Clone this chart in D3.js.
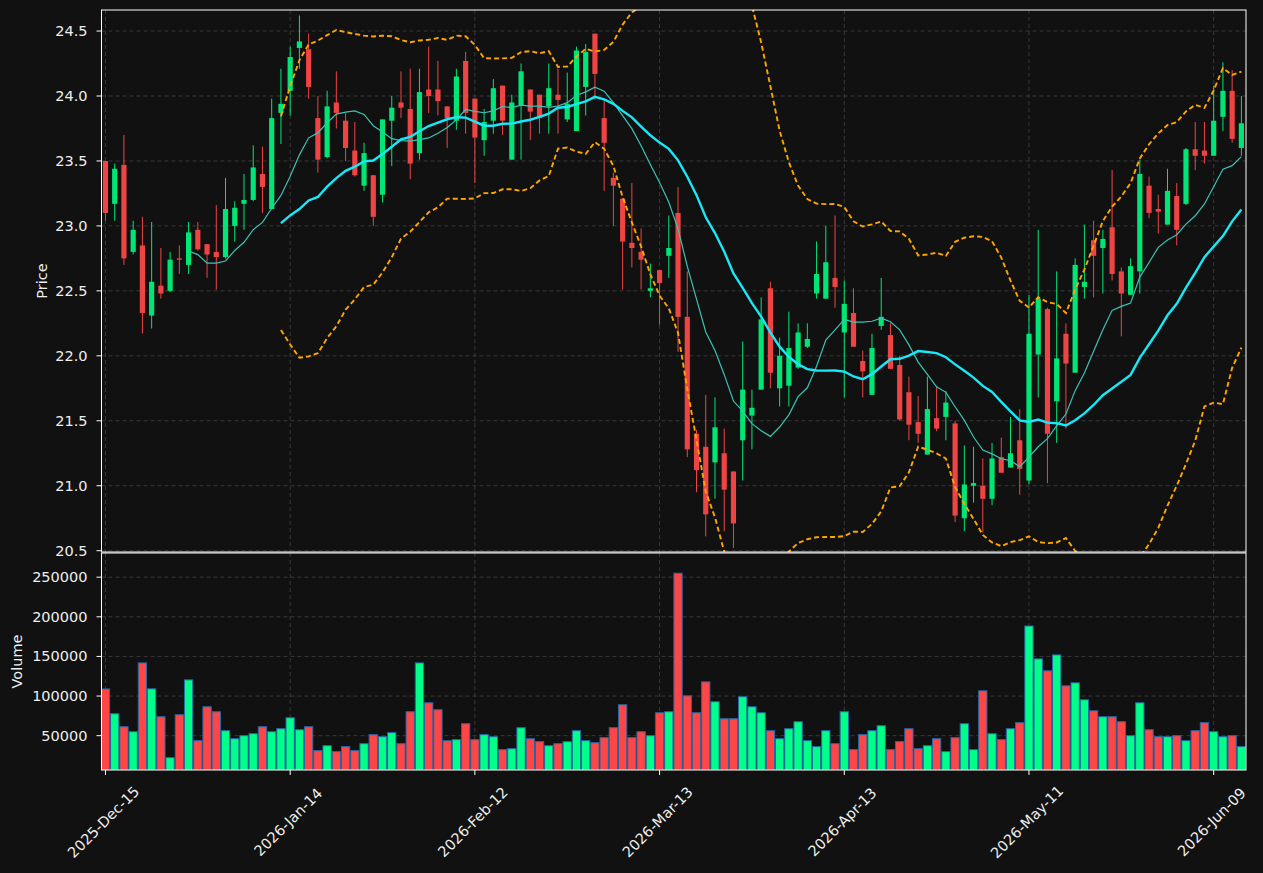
<!DOCTYPE html>
<html>
<head>
  <meta charset="utf-8">
  <title>Candles with MA and Bollinger</title>
  <script src="https://d3js.org/d3.v7.min.js"></script>
  <style>
    body { margin: 0; background: #111111; }
    text { font-family: "DejaVu Sans", sans-serif; }
  </style>
</head>
<body>
<div id="chart"></div>
<script>
// trading days (NYSE calendar, Dec 2025 - Jun 2026)
var dates = [
  "2025-12-15","2025-12-16","2025-12-17","2025-12-18","2025-12-19","2025-12-22","2025-12-23","2025-12-24","2025-12-26","2025-12-29","2025-12-30","2025-12-31",
  "2026-01-02","2026-01-05","2026-01-06","2026-01-07","2026-01-08","2026-01-09","2026-01-12","2026-01-13","2026-01-14","2026-01-15","2026-01-16","2026-01-20",
  "2026-01-21","2026-01-22","2026-01-23","2026-01-26","2026-01-27","2026-01-28","2026-01-29","2026-01-30",
  "2026-02-02","2026-02-03","2026-02-04","2026-02-05","2026-02-06","2026-02-09","2026-02-10","2026-02-11","2026-02-12","2026-02-13","2026-02-17","2026-02-18",
  "2026-02-19","2026-02-20","2026-02-23","2026-02-24","2026-02-25","2026-02-26","2026-02-27",
  "2026-03-02","2026-03-03","2026-03-04","2026-03-05","2026-03-06","2026-03-09","2026-03-10","2026-03-11","2026-03-12","2026-03-13","2026-03-16","2026-03-17",
  "2026-03-18","2026-03-19","2026-03-20","2026-03-23","2026-03-24","2026-03-25","2026-03-26","2026-03-27","2026-03-30","2026-03-31",
  "2026-04-01","2026-04-02","2026-04-06","2026-04-07","2026-04-08","2026-04-09","2026-04-10","2026-04-13","2026-04-14","2026-04-15","2026-04-16","2026-04-17",
  "2026-04-20","2026-04-21","2026-04-22","2026-04-23","2026-04-24","2026-04-27","2026-04-28","2026-04-29","2026-04-30",
  "2026-05-01","2026-05-04","2026-05-05","2026-05-06","2026-05-07","2026-05-08","2026-05-11","2026-05-12","2026-05-13","2026-05-14","2026-05-15","2026-05-18",
  "2026-05-19","2026-05-20","2026-05-21","2026-05-22","2026-05-26","2026-05-27","2026-05-28","2026-05-29",
  "2026-06-01","2026-06-02","2026-06-03","2026-06-04","2026-06-05","2026-06-08","2026-06-09","2026-06-10","2026-06-11","2026-06-12"
];

var opens = [
  23.50,23.17,23.47,22.80,22.85,22.31,22.54,22.50,22.75,22.70,
  22.97,22.86,22.80,22.76,23.00,23.17,23.20,23.40,23.13,23.87,
  24.04,24.37,24.36,23.83,23.53,23.95,23.81,23.58,23.31,23.39,
  23.24,23.81,23.95,23.90,23.56,24.05,24.05,23.92,23.81,24.27,
  23.98,23.66,23.81,24.08,23.51,23.93,24.05,24.01,23.92,24.01,
  23.82,23.73,24.07,24.48,23.83,23.37,23.21,22.87,22.80,22.50,
  22.66,22.77,23.10,22.30,21.40,21.30,21.18,21.25,21.11,21.35,
  21.54,21.74,22.52,21.75,21.77,21.91,22.07,22.48,22.44,22.60,
  22.18,22.33,21.96,21.70,22.23,22.16,21.93,21.72,21.49,21.24,
  21.52,21.53,21.48,20.75,21.00,21.00,20.90,21.22,21.14,21.35,
  21.04,22.01,22.36,21.65,22.17,21.87,22.53,22.89,22.83,22.99,
  22.65,22.47,22.65,23.31,23.13,23.01,23.23,23.17,23.59,23.58,
  23.54,23.84,24.04,23.60
];
var highs = [
  23.50,23.48,23.70,23.04,23.07,23.03,22.83,22.80,22.85,23.03,
  23.03,22.86,23.16,23.37,23.19,23.40,23.62,23.61,23.98,24.21,
  24.38,24.62,24.48,24.00,24.04,24.19,23.87,23.80,23.64,23.39,
  23.82,24.00,24.19,24.21,24.21,24.38,24.27,23.92,24.21,24.34,
  23.98,23.90,24.13,24.08,24.01,24.25,24.05,24.01,24.25,24.21,
  24.18,24.38,24.40,24.48,23.97,23.41,23.21,23.33,22.98,22.71,
  22.66,23.08,23.30,22.65,21.43,21.70,21.68,21.44,21.11,22.11,
  21.74,22.45,22.57,22.14,22.34,22.25,22.25,22.88,23.00,23.08,
  22.58,22.52,22.04,22.17,22.60,22.25,22.00,21.84,21.69,21.84,
  21.76,21.73,21.50,21.31,21.30,21.21,21.33,21.37,21.53,21.59,
  22.47,22.97,22.37,22.65,22.25,22.75,23.01,23.04,22.97,23.43,
  22.68,22.75,23.51,23.38,23.24,23.44,23.33,23.60,23.80,23.80,
  24.08,24.26,24.20,24.00
];
var lows = [
  23.04,23.04,22.70,22.78,22.17,22.21,22.44,22.49,22.63,22.63,
  22.81,22.60,22.51,22.75,22.88,22.97,23.19,23.10,23.13,23.63,
  23.85,24.21,23.98,23.41,23.52,23.75,23.50,23.38,23.27,23.00,
  23.18,23.46,23.83,23.36,23.51,23.87,23.85,23.60,23.74,23.71,
  23.33,23.54,23.71,23.70,23.51,23.51,23.66,23.71,23.71,23.71,
  23.80,23.73,23.85,23.97,23.27,23.00,22.51,22.68,22.51,22.45,
  22.24,22.60,22.03,21.22,20.95,20.61,20.90,20.65,20.52,21.04,
  21.28,21.74,21.75,21.61,21.61,21.90,22.06,22.44,22.44,22.37,
  21.68,22.07,21.68,21.70,22.20,21.90,21.50,21.35,21.33,21.24,
  21.42,21.35,20.72,20.65,20.87,20.64,20.85,21.10,21.14,20.93,
  21.01,21.68,21.02,21.33,21.44,21.87,22.44,22.45,22.48,22.58,
  22.15,22.47,22.48,23.06,22.94,23.01,22.85,23.16,23.43,23.48,
  23.54,23.73,23.64,23.54
];
var closes = [
  23.10,23.44,22.75,22.97,22.33,22.57,22.48,22.74,22.74,22.95,
  22.82,22.78,22.76,23.13,23.14,23.20,23.45,23.30,23.83,23.94,
  24.30,24.42,24.07,23.51,23.92,23.87,23.60,23.39,23.56,23.07,
  23.82,23.91,23.91,23.48,24.03,24.00,23.96,23.83,24.15,23.87,
  23.68,23.80,24.06,23.81,23.95,24.19,23.88,23.83,24.06,23.97,
  23.94,24.35,24.34,24.17,23.64,23.31,22.88,22.83,22.74,22.52,
  22.56,22.83,22.30,21.28,21.12,20.78,21.45,20.97,20.71,21.74,
  21.60,22.28,21.87,22.00,22.06,22.18,22.13,22.63,22.72,22.53,
  22.40,22.07,21.88,22.06,22.30,21.90,21.51,21.47,21.40,21.59,
  21.44,21.64,20.77,21.01,21.02,20.90,21.21,21.10,21.25,21.13,
  22.17,22.44,21.40,21.98,21.94,22.70,22.57,22.77,22.90,22.63,
  22.48,22.69,23.40,23.10,23.11,23.27,22.97,23.59,23.54,23.54,
  23.81,24.04,23.67,23.79
];
var volumes = [
  109000,77700,61300,55000,141800,109100,73900,22300,76400,120400,
  43700,86500,80200,56300,46200,50000,52500,61300,55000,58800,
  72600,57500,61300,31100,37400,29900,36200,31100,39900,51300,
  48700,53800,39900,80200,141800,91500,82700,43700,45000,65100,
  45000,51300,48700,32400,33600,60100,46200,42500,37400,39900,
  42500,56300,43700,41200,47500,60100,89000,47500,55000,50000,
  78900,80200,255000,100300,78900,117900,92800,71400,71400,99100,
  86500,78900,56300,46200,58800,67600,43700,36200,56300,39900,
  80200,32400,51300,56300,62600,32400,42500,58800,33600,37400,
  46200,29900,47500,65100,32400,106600,52500,45000,58800,66400,
  188400,146900,131800,151900,112900,116700,95300,81400,73900,73900,
  67600,50000,91500,57500,48700,48700,50000,43700,56300,66400,
  55000,48700,50000,36200
];

var priceTicks = [20.5, 21.0, 21.5, 22.0, 22.5, 23.0, 23.5, 24.0, 24.5];
var volumeTicks = [50000, 100000, 150000, 200000, 250000];
var xTickEvery = 20;

var width = 1263, height = 873;
var left = 101.5, right = 1246;
var pTop = 10, pBottom = 552, vTop = 553, vBottom = 770;

var upColor = "#00e676", downColor = "#ef4444";
var volUp = "#00ff88", volDown = "#ff4646";

var data = dates.map(function(d, i) {
  return {i: i, date: d3.timeParse("%Y-%m-%d")(d), o: opens[i], h: highs[i], l: lows[i], c: closes[i], v: volumes[i]};
});

// moving averages / bollinger from the closes
function sma(n) {
  return data.map(function(d, i) {
    if (i < n - 1) return null;
    return d3.mean(closes.slice(i - n + 1, i + 1));
  });
}
var ma10 = sma(10), ma20 = sma(20);
var bbUp = [], bbLo = [];
data.forEach(function(d, i) {
  if (i < 19) { bbUp.push(null); bbLo.push(null); return; }
  var w = closes.slice(i - 19, i + 1), m = ma20[i];
  var sd = Math.sqrt(d3.mean(w, function(v) { return (v - m) * (v - m); }));
  bbUp.push(m + 2 * sd); bbLo.push(m - 2 * sd);
});

var svg = d3.select("#chart").append("svg")
  .attr("width", width).attr("height", height)
  .style("background", "#111111");

var x = d3.scaleLinear().domain([-0.43, 123.5]).range([left, right]);
var step = x(1) - x(0);
var yP = d3.scaleLinear().domain([20.49, 24.662]).range([pBottom, pTop]);
var vMin = d3.min(volumes) * 0.3, vMax = d3.max(volumes) * 1.1;
var yV = d3.scaleLinear().domain([vMin, vMax]).range([vBottom, vTop]);

var defs = svg.append("defs");
defs.append("clipPath").attr("id", "clipP").append("rect")
  .attr("x", left).attr("y", pTop).attr("width", right - left).attr("height", pBottom - pTop);
defs.append("clipPath").attr("id", "clipV").append("rect")
  .attr("x", left).attr("y", vTop).attr("width", right - left).attr("height", vBottom - vTop);

var xTicks = d3.range(0, data.length, xTickEvery);
var gridColor = "#3d3d3d";

// grids
var grid = svg.append("g").attr("stroke", gridColor).attr("stroke-dasharray", "4,3").attr("stroke-width", 0.9);
xTicks.forEach(function(t) {
  grid.append("line").attr("x1", x(t)).attr("x2", x(t)).attr("y1", pTop).attr("y2", pBottom);
  grid.append("line").attr("x1", x(t)).attr("x2", x(t)).attr("y1", vTop).attr("y2", vBottom);
});
priceTicks.forEach(function(t) {
  grid.append("line").attr("x1", left).attr("x2", right).attr("y1", yP(t)).attr("y2", yP(t));
});
volumeTicks.forEach(function(t) {
  grid.append("line").attr("x1", left).attr("x2", right).attr("y1", yV(t)).attr("y2", yV(t));
});

// candles
var cg = svg.append("g").attr("clip-path", "url(#clipP)");
var bodyW = step * 0.56;
cg.selectAll(".wick").data(data).enter().append("line")
  .attr("class", "wick")
  .attr("x1", function(d) { return x(d.i); })
  .attr("x2", function(d) { return x(d.i); })
  .attr("y1", function(d) { return yP(d.h); })
  .attr("y2", function(d) { return yP(d.l); })
  .attr("stroke", function(d) { return d.c >= d.o ? upColor : downColor; })
  .attr("stroke-width", 1);
cg.selectAll(".body").data(data).enter().append("rect")
  .attr("class", "body")
  .attr("x", function(d) { return x(d.i) - bodyW / 2; })
  .attr("width", bodyW)
  .attr("y", function(d) { return yP(Math.max(d.o, d.c)); })
  .attr("height", function(d) { return Math.max(1, Math.abs(yP(d.o) - yP(d.c))); })
  .attr("fill", function(d) { return d.c >= d.o ? upColor : downColor; });

// indicator lines
function lineOf(arr) {
  return d3.line()
    .defined(function(d, i) { return arr[i] != null; })
    .x(function(d, i) { return x(i); })
    .y(function(d, i) { return yP(arr[i]); })(data);
}
cg.append("path").attr("d", lineOf(bbUp)).attr("fill", "none")
  .attr("stroke", "#ffa500").attr("stroke-width", 1.9).attr("stroke-dasharray", "5,3");
cg.append("path").attr("d", lineOf(bbLo)).attr("fill", "none")
  .attr("stroke", "#ffa500").attr("stroke-width", 1.9).attr("stroke-dasharray", "5,3");
cg.append("path").attr("d", lineOf(ma10)).attr("fill", "none")
  .attr("stroke", "#3cc3b5").attr("stroke-width", 1.2);
cg.append("path").attr("d", lineOf(ma20)).attr("fill", "none")
  .attr("stroke", "#18e8f7").attr("stroke-width", 2.4);

// volume
var vg = svg.append("g").attr("clip-path", "url(#clipV)");
var barW = step * 0.9;
vg.selectAll(".vol").data(data).enter().append("rect")
  .attr("class", "vol")
  .attr("x", function(d) { return x(d.i) - barW / 2; })
  .attr("width", barW)
  .attr("y", function(d) { return yV(d.v); })
  .attr("height", function(d) { return yV(0) - yV(d.v); })
  .attr("fill", function(d) { return d.c >= d.o ? volUp : volDown; })
  .attr("stroke", "#2668a8").attr("stroke-width", 1);

// frames
svg.append("rect").attr("x", left).attr("y", pTop).attr("width", right - left).attr("height", pBottom - pTop)
  .attr("fill", "none").attr("stroke", "#ffffff").attr("stroke-width", 1);
svg.append("rect").attr("x", left).attr("y", vTop).attr("width", right - left).attr("height", vBottom - vTop)
  .attr("fill", "none").attr("stroke", "#ffffff").attr("stroke-width", 1);

// y axes
var txtColor = "#eeeeee";
var ax = svg.append("g").attr("font-size", 14.5).attr("fill", txtColor);
priceTicks.forEach(function(t) {
  ax.append("line").attr("x1", left - 5).attr("x2", left).attr("y1", yP(t)).attr("y2", yP(t)).attr("stroke", "#ffffff");
  ax.append("text").attr("x", left - 14).attr("y", yP(t)).attr("dy", "0.35em")
    .attr("text-anchor", "end").text(d3.format(".1f")(t));
});
volumeTicks.forEach(function(t) {
  ax.append("line").attr("x1", left - 5).attr("x2", left).attr("y1", yV(t)).attr("y2", yV(t)).attr("stroke", "#ffffff");
  ax.append("text").attr("x", left - 14).attr("y", yV(t)).attr("dy", "0.35em")
    .attr("text-anchor", "end").text(t);
});

// x axis
var fmt = d3.timeFormat("%Y-%b-%d");
xTicks.forEach(function(t) {
  ax.append("line").attr("x1", x(t)).attr("x2", x(t)).attr("y1", vBottom).attr("y2", vBottom + 5).attr("stroke", "#ffffff");
  ax.append("text")
    .attr("transform", "translate(" + (x(t) - 2) + "," + (vBottom + 52) + ") rotate(-45)")
    .attr("text-anchor", "middle").attr("dy", "0.35em")
    .text(fmt(data[t].date));
});

// axis titles
ax.append("text").attr("transform", "translate(47," + ((pTop + pBottom) / 2) + ") rotate(-90)")
  .attr("text-anchor", "middle").text("Price");
ax.append("text").attr("transform", "translate(22," + ((vTop + vBottom) / 2) + ") rotate(-90)")
  .attr("text-anchor", "middle").text("Volume");
</script>
</body>
</html>
